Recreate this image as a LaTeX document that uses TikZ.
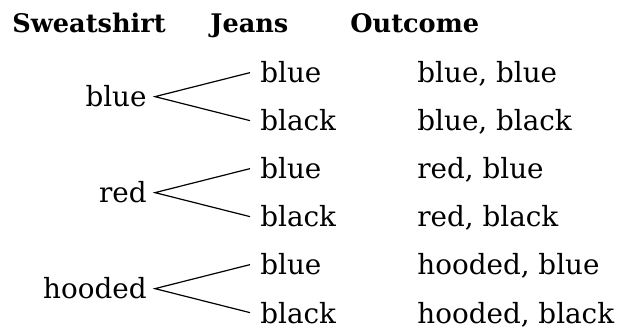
\documentclass[tikz,border=0pt]{standalone}
\usepackage{fontspec}
\setmainfont{DejaVu Serif}
\tikzset{
  label/.style={inner sep=0pt, font=\fontsize{13.9}{16}\selectfont},
  head/.style={label, anchor=base west, font=\fontsize{12.8}{16}\selectfont\bfseries},
  parent/.style={label, anchor=base east, inner xsep=4pt},
  child/.style={label, anchor=base west, inner xsep=5pt},
  outcome/.style={label, anchor=base west},
  branch/.style={line width=0.6pt}
}
\begin{document}
\begin{tikzpicture}[x=0.5pt, y=-0.5pt]
  \useasboundingbox (0,0) rectangle (619,330);
  % column headings
  \node[head] (hs) at (12,33) {Sweatshirt};
  \node[head] (hj) at (210,33) {Jeans};
  \node[head] (ho) at (350,33) {Outcome};
  % first choice
  \node[parent] (p1) at (155,107) {blue};
  \node[parent] (p2) at (155,203) {red};
  \node[parent] (p3) at (155,299) {hooded};
  % second choice
  \node[child] (c1) at (250,83)  {blue};
  \node[child] (c2) at (250,131) {black};
  \node[child] (c3) at (250,179) {blue};
  \node[child] (c4) at (250,227) {black};
  \node[child] (c5) at (250,275) {blue};
  \node[child] (c6) at (250,323) {black};
  % outcomes
  \node[outcome] (o1) at (417,83)  {blue, blue};
  \node[outcome] (o2) at (417,131) {blue, black};
  \node[outcome] (o3) at (417,179) {red, blue};
  \node[outcome] (o4) at (417,227) {red, black};
  \node[outcome] (o5) at (417,275) {hooded, blue};
  \node[outcome] (o6) at (417,323) {hooded, black};
  % branches
  \draw[branch] (c1.west) -- (p1.east) -- (c2.west);
  \draw[branch] (c3.west) -- (p2.east) -- (c4.west);
  \draw[branch] (c5.west) -- (p3.east) -- (c6.west);
\end{tikzpicture}
\end{document}
